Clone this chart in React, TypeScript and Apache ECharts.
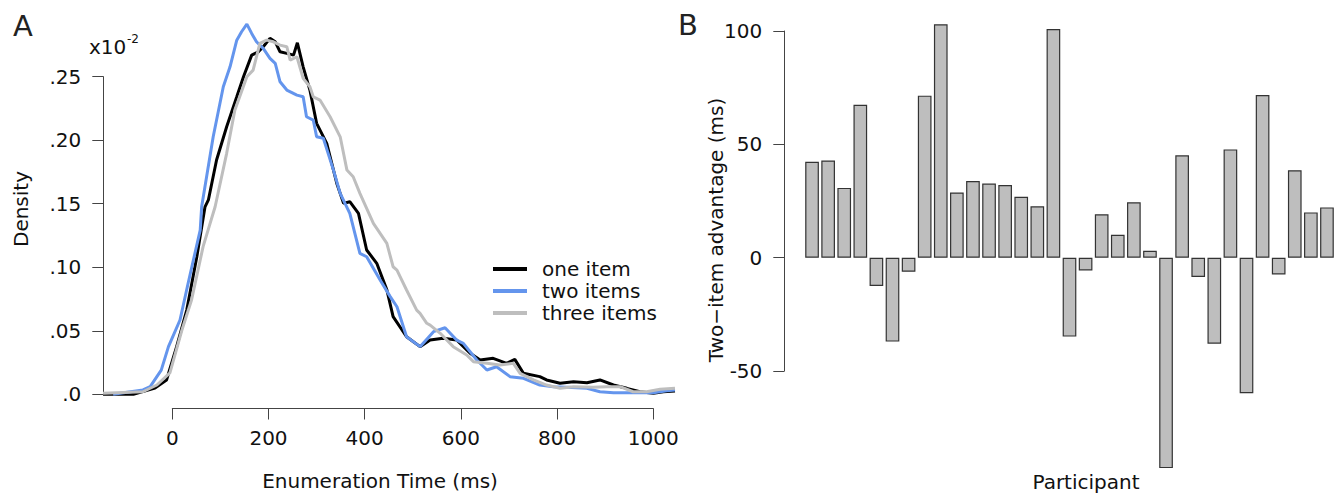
import React, { useEffect, useRef } from "react";
import * as echarts from "echarts";

// ---------- Panel A: density curves (time in ms, density) ----------
const oneItemTime = [-144, -81, -36, -12, 9, 30, 51, 68, 75, 92, 113, 134, 148, 165, 179, 189, 203, 214, 224, 238, 252, 260, 272, 286, 300, 321, 342, 356, 369, 387, 404, 425, 446, 459, 487, 515, 536, 563, 591, 619, 640, 667, 695, 712, 730, 764, 778, 806, 834, 862, 889, 917, 945, 972, 1000, 1021, 1045];
const oneItemDensity = [0, 0, 0.005, 0.0113, 0.0375, 0.0663, 0.1083, 0.1476, 0.153, 0.1844, 0.2106, 0.2342, 0.25, 0.267, 0.2696, 0.2736, 0.2802, 0.2775, 0.2696, 0.2684, 0.267, 0.2767, 0.2578, 0.2395, 0.2133, 0.1975, 0.166, 0.1503, 0.1516, 0.1424, 0.1136, 0.1031, 0.0822, 0.0611, 0.0453, 0.0375, 0.0427, 0.0441, 0.0427, 0.0323, 0.027, 0.0283, 0.0244, 0.0275, 0.0165, 0.0139, 0.0113, 0.0087, 0.0099, 0.0091, 0.0113, 0.0073, 0.0047, 0.002, 0.0008, 0.002, 0.0026];

const twoItemsTime = [-123, -61, -46, -23, -8, 16, 33, 58, 61, 85, 106, 120, 134, 144, 155, 165, 175, 189, 203, 214, 224, 238, 259, 272, 279, 293, 300, 314, 335, 349, 369, 390, 404, 432, 453, 467, 487, 515, 543, 567, 591, 605, 633, 654, 674, 702, 730, 764, 792, 820, 862, 889, 917, 958, 1000, 1028, 1045];
const twoItemsDensity = [0, 0.0034, 0.006, 0.019, 0.0375, 0.0585, 0.0876, 0.1293, 0.1476, 0.2027, 0.2421, 0.2578, 0.2788, 0.2854, 0.2914, 0.2841, 0.2775, 0.2723, 0.2644, 0.2605, 0.246, 0.2395, 0.2355, 0.2342, 0.2185, 0.2159, 0.2027, 0.2015, 0.1765, 0.1582, 0.1424, 0.111, 0.1083, 0.09, 0.0769, 0.0689, 0.0453, 0.0375, 0.0493, 0.0524, 0.0427, 0.0401, 0.027, 0.0191, 0.0217, 0.0139, 0.0126, 0.0073, 0.006, 0.0055, 0.0047, 0.002, 0.0013, 0.0013, 0.0013, 0.0028, 0.0034];

const threeItemsTime = [-144, -61, -32, -5, 20, 40, 64, 89, 113, 130, 155, 168, 182, 196, 210, 224, 238, 245, 259, 272, 286, 293, 307, 328, 349, 363, 376, 390, 418, 432, 446, 459, 467, 487, 508, 515, 529, 536, 557, 584, 612, 626, 654, 681, 709, 723, 751, 778, 806, 834, 875, 903, 931, 958, 986, 1014, 1045];
const threeItemsDensity = [0.0008, 0.002, 0.0073, 0.0168, 0.0506, 0.0742, 0.1162, 0.1476, 0.1897, 0.2237, 0.25, 0.2552, 0.2762, 0.2788, 0.2775, 0.2749, 0.2736, 0.263, 0.2657, 0.2487, 0.2421, 0.2342, 0.2316, 0.2185, 0.2027, 0.1765, 0.1713, 0.1582, 0.1346, 0.1267, 0.1188, 0.1004, 0.0978, 0.0821, 0.0663, 0.0637, 0.0559, 0.0545, 0.048, 0.0375, 0.0309, 0.0257, 0.0244, 0.0231, 0.0244, 0.0165, 0.0113, 0.0073, 0.0047, 0.006, 0.0055, 0.006, 0.006, 0.002, 0.002, 0.0039, 0.0047];

const seriesNames = ["one item", "two items", "three items"];
const seriesColors = ["#000000", "#6495ED", "#BEBEBE"];

// ---------- Panel B: two-item advantage per participant ----------
const participants = Array.from({ length: 33 }, (_, i) => String(i + 1));
const advantage = [42.3, 42.9, 30.8, 67.5, -12.5, -37, -6.2, 71.5, 103, 28.8, 33.8, 32.7, 32.1, 26.9, 22.7, 100.9, -34.8, -5.6, 19.2, 10.1, 24.5, 3.1, -92.8, 45.2, -8.5, -37.9, 47.8, -59.8, 71.8, -7.4, 38.6, 20.0, 22.2];

const FONT = "DejaVu Sans";
const TXT = "#111";
const AX = "#444";

function zip(xs: number[], ys: number[]) {
  return xs.map((x, i) => [x, ys[i]]);
}

export default function App() {
  const ref = useRef<HTMLDivElement>(null);
  useEffect(() => {
    if (!ref.current) return;
    const chart = echarts.init(ref.current, null, { renderer: "svg" });
    const axisCommon = {
      axisLine: { show: true, lineStyle: { color: AX, width: 1 } },
      axisTick: { show: true, length: 11, lineStyle: { color: AX, width: 1 } },
      splitLine: { show: false },
    };
    const hidden = { show: false };
    chart.setOption({
      animation: false,
      backgroundColor: "#fff",
      grid: [
        { left: 100.15, top: 13.2, width: 582.06, height: 393.8 }, // A data
        { left: 172.3, top: 300, width: 481, height: 108.5 }, // A x axis
        { left: 103.3, top: 76.7, width: 300, height: 317.6 }, // A y axis
        { left: 804, top: 8.4, width: 531, height: 476 }, // B data
        { left: 784.3, top: 31, width: 500, height: 340 }, // B y axis
      ],
      xAxis: [
        { type: "value", gridIndex: 0, min: -150, max: 1060, ...hidden },
        {
          type: "value", gridIndex: 1, min: 0, max: 1000, interval: 200, ...axisCommon,
          axisLabel: { margin: 19, fontSize: 20, fontFamily: FONT, color: TXT, formatter: (v: number) => String(v) },
        },
        { type: "value", gridIndex: 2, min: 0, max: 1, ...hidden },
        { type: "category", gridIndex: 3, data: participants, ...hidden },
        { type: "value", gridIndex: 4, min: 0, max: 1, ...hidden },
      ],
      yAxis: [
        { type: "value", gridIndex: 0, min: -0.01, max: 0.3, ...hidden },
        { type: "value", gridIndex: 1, min: 0, max: 1, ...hidden },
        {
          type: "value", gridIndex: 2, min: 0, max: 0.25, interval: 0.05, ...axisCommon,
          axisLabel: {
            margin: 22, fontSize: 20, fontFamily: FONT, color: TXT,
            formatter: (v: number) => (v === 0 ? ".0" : v.toFixed(2).replace(/^0/, "")),
          },
        },
        { type: "value", gridIndex: 3, min: -100, max: 110, ...hidden },
        {
          type: "value", gridIndex: 4, min: -50, max: 100, interval: 50, ...axisCommon,
          axisLabel: { margin: 22, fontSize: 20, fontFamily: FONT, color: TXT, formatter: (v: number) => String(v) },
        },
      ],
      legend: {
        data: seriesNames,
        orient: "vertical",
        left: 493,
        top: 259,
        padding: 0,
        itemWidth: 34,
        itemHeight: 4,
        itemGap: 2,
        icon: "rect",
        textStyle: { fontSize: 20, fontFamily: FONT, color: TXT, padding: [0, 0, 0, 10] },
      },
      series: [
        ...[zip(oneItemTime, oneItemDensity), zip(twoItemsTime, twoItemsDensity), zip(threeItemsTime, threeItemsDensity)].map(
          (d, i) => ({
            type: "line",
            name: seriesNames[i],
            xAxisIndex: 0,
            yAxisIndex: 0,
            data: d,
            showSymbol: false,
            color: seriesColors[i],
            lineStyle: { width: 3, color: seriesColors[i] },
          })
        ),
        {
          type: "bar",
          name: "Two-item advantage",
          xAxisIndex: 3,
          yAxisIndex: 3,
          data: advantage,
          barCategoryGap: "15%",
          itemStyle: { color: "#BEBEBE", borderColor: "#333", borderWidth: 1.2 },
        },
      ],
      graphic: [
        { type: "text", x: 23, y: 26, style: { text: "A", fontSize: 29, fontFamily: FONT, fill: "#222", textAlign: "center", textVerticalAlign: "middle" } },
        { type: "text", x: 688, y: 25, style: { text: "B", fontSize: 29, fontFamily: FONT, fill: "#222", textAlign: "center", textVerticalAlign: "middle" } },
        { type: "text", x: 89, y: 47, style: { text: "x10", fontSize: 20, fontFamily: FONT, fill: TXT, textAlign: "left", textVerticalAlign: "middle" } },
        { type: "text", x: 127, y: 39, style: { text: "-2", fontSize: 12, fontFamily: FONT, fill: TXT, textAlign: "left", textVerticalAlign: "middle" } },
        { type: "text", x: 21, y: 209, rotation: Math.PI / 2, style: { text: "Density", fontSize: 20, fontFamily: FONT, fill: TXT, textAlign: "center", textVerticalAlign: "middle" } },
        { type: "text", x: 380, y: 481, style: { text: "Enumeration Time (ms)", fontSize: 20, fontFamily: FONT, fill: TXT, textAlign: "center", textVerticalAlign: "middle" } },
        { type: "text", x: 1086, y: 482, style: { text: "Participant", fontSize: 20, fontFamily: FONT, fill: TXT, textAlign: "center", textVerticalAlign: "middle" } },
        { type: "text", x: 716, y: 230, rotation: Math.PI / 2, style: { text: "Two\u2212item advantage (ms)", fontSize: 20, fontFamily: FONT, fill: TXT, textAlign: "center", textVerticalAlign: "middle" } },
      ],
    });
    return () => chart.dispose();
  }, []);
  return (
    <div
      ref={ref}
      style={{ position: "fixed", left: 0, top: 0, width: 1342, height: 495, background: "#fff" }}
    />
  );
}
